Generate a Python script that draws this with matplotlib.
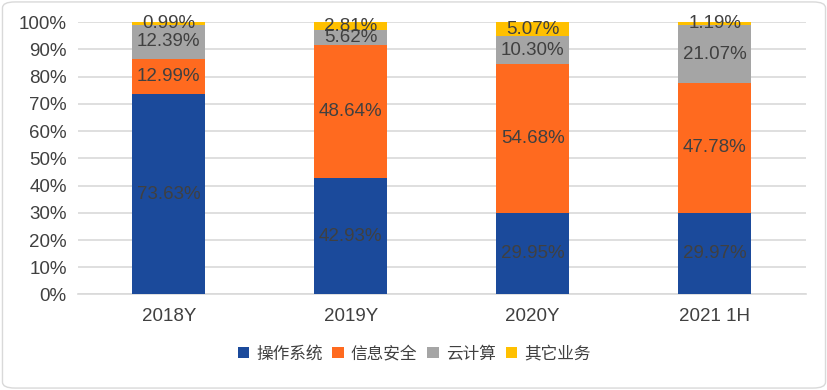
import matplotlib
matplotlib.use('Agg')
import matplotlib.pyplot as plt
from matplotlib.patches import FancyBboxPatch
import numpy as np

plt.rcParams['font.family'] = ['Liberation Sans', 'Noto Sans CJK SC', 'DejaVu Sans']

years = ['2018Y', '2019Y', '2020Y', '2021 1H']
series_names = ['操作系统', '信息安全', '云计算', '其它业务']
os_vals = [73.63, 42.93, 29.95, 29.97]
sec_vals = [12.99, 48.64, 54.68, 47.78]
cloud_vals = [12.39, 5.62, 10.30, 21.07]
other_vals = [0.99, 2.81, 5.07, 1.19]
colors = ['#1B4A9B', '#FF6A1F', '#A5A5A5', '#FFC000']

fig = plt.figure(figsize=(8.28, 3.9), dpi=100)
ax = fig.add_axes([0.094, 0.245, 0.879, 0.698])

x = np.arange(len(years))
bottom = np.zeros(len(years))
for name, vals, c in zip(series_names, [os_vals, sec_vals, cloud_vals, other_vals], colors):
    vals = np.array(vals)
    ax.bar(x, vals, 0.4, bottom=bottom, color=c, label=name, zorder=3)
    for xi, b, v in zip(x, bottom, vals):
        ax.text(xi, b + v / 2, f'{v:.2f}%', ha='center', va='center',
                fontsize=13.5, color='#404040', zorder=4)
    bottom += vals

ax.set_xlim(-0.5, len(years) - 0.5)
ax.set_ylim(0, 100)
ax.set_yticks(range(0, 101, 10))
ax.set_yticklabels([f'{v}%' for v in range(0, 101, 10)])
ax.set_xticks(x)
ax.set_xticklabels(years)
ax.tick_params(axis='both', length=0, labelsize=13.5, colors='#404040')
ax.tick_params(axis='x', pad=10)
ax.tick_params(axis='y', pad=8)
ax.grid(axis='y', color='#D9D9D9', linewidth=1.2, zorder=0)
for s in ['top', 'right', 'left']:
    ax.spines[s].set_visible(False)
ax.spines['bottom'].set_color('#D9D9D9')
ax.spines['bottom'].set_linewidth(1.2)

fig.legend(loc='lower center', bbox_to_anchor=(0.5, 0.035), ncol=4, frameon=False,
           fontsize=12, handlelength=0.7, handleheight=0.7, handletextpad=0.4,
           columnspacing=0.6, labelcolor='#404040')

border = FancyBboxPatch((0.003, 0.005), 0.994, 0.99, boxstyle='round,pad=0,rounding_size=0.015',
                        transform=fig.transFigure, fill=False, edgecolor='#D9D9D9', linewidth=1)
fig.patches.append(border)

fig.savefig('out.png', dpi=100)
